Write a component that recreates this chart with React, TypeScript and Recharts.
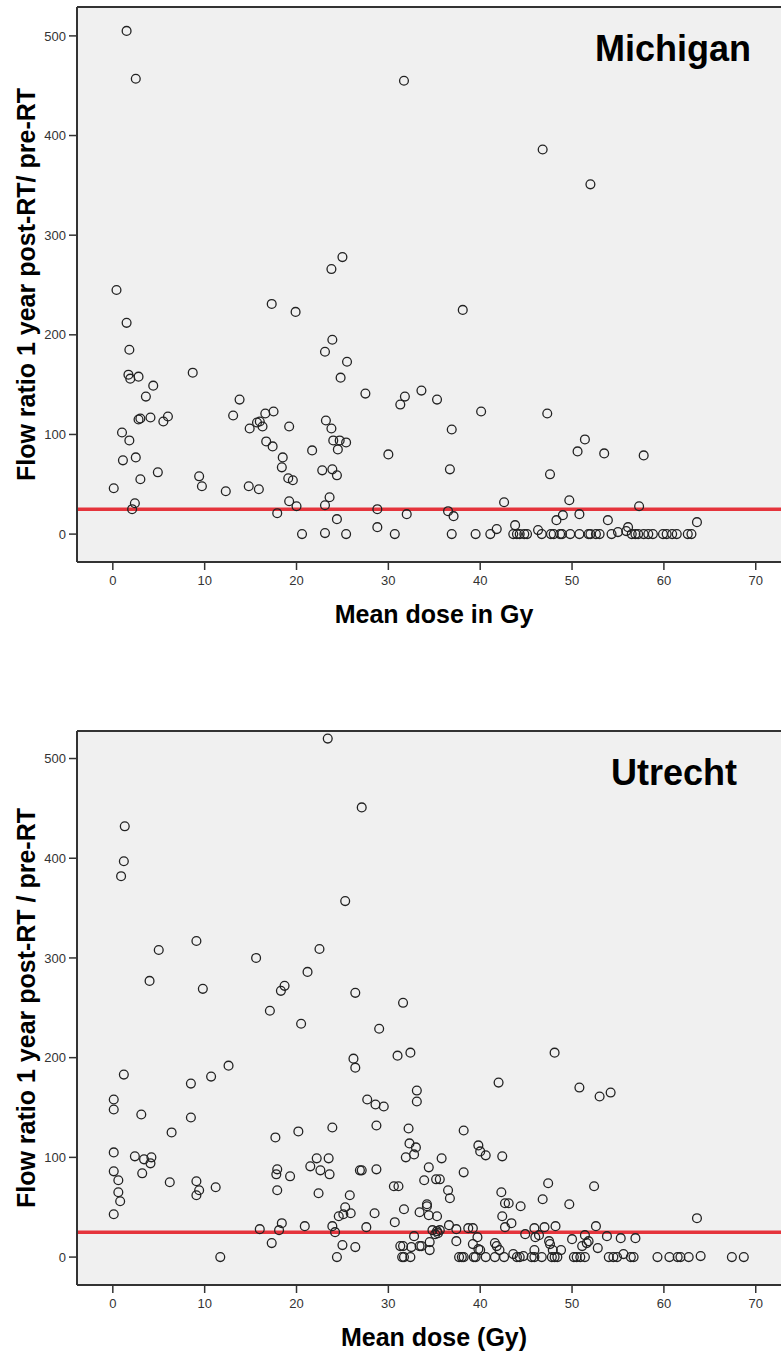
import React from "react";
import {
  ScatterChart,
  Scatter,
  XAxis,
  YAxis,
  CartesianGrid,
  ReferenceLine,
} from "recharts";

// [mean dose (Gy), flow ratio 1 year post-RT / pre-RT]
const michiganPoints: [number, number][] = [
  [1.5, 505], [2.5, 457], [31.7, 455], [46.8, 386], [52.0, 351], [25.0, 278],
  [23.8, 266], [0.4, 245], [17.3, 231], [38.1, 225], [19.9, 223], [1.5, 212],
  [23.9, 195], [1.8, 185], [23.1, 183], [25.5, 173], [8.7, 162], [1.7, 160],
  [1.9, 156], [2.8, 158], [24.8, 157], [4.4, 149], [33.6, 144], [27.5, 141],
  [3.6, 138], [31.8, 138], [13.8, 135], [35.3, 135], [31.3, 130], [40.1, 123],
  [17.5, 123], [16.6, 121], [47.3, 121], [13.1, 119], [6.0, 118], [4.1, 117],
  [3.0, 116], [2.8, 115], [23.2, 114], [16.0, 113], [5.5, 113], [15.7, 112],
  [16.3, 108], [19.2, 108], [14.9, 106], [23.8, 106], [36.9, 105], [1.0, 102],
  [51.4, 95], [1.8, 94], [24.0, 94], [24.7, 94], [16.7, 93], [25.4, 92],
  [17.4, 88], [24.5, 85], [21.7, 84], [50.6, 83], [53.5, 81], [30.0, 80],
  [57.8, 79], [2.5, 77], [18.5, 77], [1.1, 74], [18.4, 67], [23.9, 65],
  [36.7, 65], [22.8, 64], [4.9, 62], [47.6, 60], [24.4, 59], [9.4, 58],
  [19.1, 56], [3.0, 55], [19.6, 54], [9.7, 48], [14.8, 48], [0.1, 46],
  [15.9, 45], [12.3, 43], [23.6, 37], [49.7, 34], [19.2, 33], [42.6, 32],
  [2.4, 31], [23.1, 29], [20.0, 28], [57.3, 28], [2.1, 25], [28.8, 25],
  [36.5, 23], [17.9, 21], [32.0, 20], [50.8, 20], [49.0, 19], [37.1, 18],
  [24.4, 15], [48.3, 14], [53.9, 14], [63.6, 12], [43.8, 9], [28.8, 7],
  [56.1, 7], [41.8, 5], [46.3, 4], [55.9, 3], [55.0, 2], [23.1, 1],
  [20.6, 0], [25.4, 0], [30.7, 0], [36.9, 0], [39.5, 0], [41.1, 0],
  [43.6, 0], [44.0, 0], [44.3, 0], [44.8, 0], [45.1, 0], [46.7, 0],
  [47.7, 0], [48.0, 0], [48.7, 0], [48.9, 0], [49.8, 0], [50.8, 0],
  [51.8, 0], [52.0, 0], [52.6, 0], [53.0, 0], [54.3, 0], [56.5, 0],
  [56.9, 0], [57.2, 0], [57.8, 0], [58.3, 0], [58.8, 0], [59.9, 0],
  [60.3, 0], [60.9, 0], [61.4, 0], [62.6, 0], [63.0, 0],
];

const utrechtPoints: [number, number][] = [
  [23.4, 520], [27.1, 451], [1.3, 432], [1.2, 397], [0.9, 382], [25.3, 357],
  [9.1, 317], [5.0, 308], [22.5, 309], [15.6, 300], [21.2, 286], [4.0, 277],
  [18.7, 272], [18.3, 267], [9.8, 269], [26.4, 265], [31.6, 255], [17.1, 247],
  [20.5, 234], [29.0, 229], [32.4, 205], [48.1, 205], [31.0, 202], [26.2, 199],
  [12.6, 192], [26.4, 190], [1.2, 183], [10.7, 181], [42.0, 175], [8.5, 174],
  [50.8, 170], [33.1, 167], [54.2, 165], [53.0, 161], [0.1, 158], [27.7, 158],
  [33.1, 156], [28.6, 153], [29.5, 151], [0.1, 148], [3.1, 143], [8.5, 140],
  [28.7, 132], [23.9, 130], [32.2, 129], [38.2, 127], [20.2, 126], [6.4, 125],
  [17.7, 120], [32.3, 114], [39.8, 112], [33.0, 110], [40.0, 106], [0.1, 105],
  [32.8, 103], [40.6, 102], [2.4, 101], [42.4, 101], [4.2, 100], [31.9, 100],
  [22.2, 99], [23.5, 99], [35.8, 99], [3.4, 98], [4.1, 94], [21.5, 91],
  [34.4, 90], [28.7, 88], [17.9, 88], [22.6, 87], [26.9, 87], [27.1, 87],
  [0.1, 86], [38.2, 85], [3.2, 84], [17.8, 83], [23.6, 83], [19.3, 81],
  [35.2, 78], [35.6, 78], [0.6, 77], [33.9, 77], [9.1, 76], [6.2, 75],
  [47.4, 74], [11.2, 70], [30.6, 71], [31.1, 71], [52.4, 71], [9.4, 67],
  [17.9, 67], [36.5, 67], [0.6, 65], [42.3, 65], [22.4, 64], [25.8, 62],
  [9.1, 62], [36.7, 59], [46.8, 58], [0.8, 56], [42.7, 54], [43.1, 54],
  [34.2, 53], [49.7, 53], [34.2, 51], [44.4, 51], [25.3, 50], [31.7, 48],
  [33.4, 45], [28.5, 44], [25.9, 44], [0.1, 43], [25.1, 43], [34.4, 42],
  [24.6, 41], [35.3, 41], [42.4, 41], [63.6, 39], [30.7, 35], [18.4, 34],
  [43.4, 34], [36.6, 32], [20.9, 31], [23.9, 31], [48.2, 31], [52.6, 31],
  [27.6, 30], [42.7, 30], [47.0, 30], [38.7, 29], [39.2, 29], [45.9, 29],
  [16.0, 28], [37.4, 28], [18.1, 27], [34.8, 27], [35.6, 27], [35.3, 26],
  [24.2, 25], [35.4, 24], [35.1, 23], [44.9, 23], [46.4, 22], [51.4, 22],
  [32.8, 21], [53.8, 21], [39.7, 20], [46.0, 20], [55.3, 19], [56.9, 19],
  [50.0, 18], [37.4, 16], [47.5, 16], [51.8, 16], [34.5, 15], [41.6, 14],
  [51.6, 14], [17.3, 14], [39.2, 13], [47.6, 13], [25.0, 12], [31.3, 11],
  [31.6, 11], [33.4, 11], [33.6, 11], [41.8, 11], [51.1, 11], [26.4, 10],
  [32.5, 10], [52.8, 9], [39.8, 8], [34.5, 7], [40.0, 7], [42.1, 7],
  [45.9, 7], [47.9, 7], [48.8, 7], [43.6, 3], [55.6, 3], [44.7, 1], [64.0, 1],
  [11.7, 0], [24.4, 0], [31.5, 0], [31.7, 0], [32.4, 0], [37.7, 0],
  [38.0, 0], [38.2, 0], [39.3, 0], [39.5, 0], [40.6, 0], [41.6, 0],
  [42.6, 0], [44.0, 0], [44.3, 0], [45.6, 0], [45.9, 0], [46.7, 0],
  [47.8, 0], [48.1, 0], [48.4, 0], [50.2, 0], [50.5, 0], [50.9, 0],
  [51.4, 0], [54.0, 0], [54.5, 0], [54.9, 0], [56.4, 0], [56.7, 0],
  [59.3, 0], [60.6, 0], [61.5, 0], [61.8, 0], [62.7, 0], [67.4, 0], [68.7, 0],
];

const xTicks = [0, 10, 20, 30, 40, 50, 60, 70];
const yTicks = [0, 100, 200, 300, 400, 500];
const cutoff = 25;

const FONT = "'Liberation Sans', Arial, sans-serif";
const AXIS = "#333";

const openCircle = (props: any) => (
  <circle cx={props.cx} cy={props.cy} r={4.4} fill="none" stroke="#222" strokeWidth={1.3} />
);

type PanelProps = {
  points: [number, number][];
  title: string;
  xLabel: string;
  yLabel: string;
  top: number;
  height: number;
  marginTop: number;
  axisHeight: number;
  yDomain: [number, number];
  xLabelOffset: number;
  titleRight: number;
  titleBaseline: number;
};

function Panel(p: PanelProps) {
  const data = p.points.map(([dose, ratio]) => ({ dose, ratio }));
  return (
    <div style={{ position: "absolute", left: 0, top: p.top, width: 781, height: p.height }}>
      <ScatterChart
        width={781}
        height={p.height}
        margin={{ top: p.marginTop, right: 0, bottom: 0, left: 0 }}
        style={{ fontFamily: FONT }}
      >
        <CartesianGrid fill="#f0f0f0" horizontal={false} vertical={false} />
        <XAxis
          type="number"
          dataKey="dose"
          domain={[-3.9, 72.75]}
          allowDataOverflow
          ticks={xTicks}
          interval={0}
          height={p.axisHeight}
          tickSize={8}
          tickMargin={6}
          axisLine={{ stroke: AXIS, strokeWidth: 2 }}
          tickLine={{ stroke: AXIS, strokeWidth: 1.5 }}
          tick={{ fontSize: 13, fill: "#333" }}
          label={{
            value: p.xLabel,
            position: "insideBottom",
            offset: p.xLabelOffset,
            dx: 5,
            fontSize: 25,
            fontWeight: 700,
            fill: "#000",
          }}
        />
        <YAxis
          type="number"
          dataKey="ratio"
          domain={p.yDomain}
          allowDataOverflow
          ticks={yTicks}
          interval={0}
          width={77}
          tickSize={8}
          tickMargin={3}
          axisLine={{ stroke: AXIS, strokeWidth: 2 }}
          tickLine={{ stroke: AXIS, strokeWidth: 1.5 }}
          tick={{ fontSize: 13, fill: "#333" }}
          label={{
            value: p.yLabel,
            angle: -90,
            position: "insideLeft",
            offset: 26,
            fontSize: 25,
            fontWeight: 700,
            fill: "#000",
            style: { textAnchor: "middle" },
          }}
        />
        <ReferenceLine y={p.yDomain[1]} stroke={AXIS} strokeWidth={2} />
        <ReferenceLine y={cutoff} stroke="#e5343c" strokeWidth={3.5} />
        <Scatter data={data} shape={openCircle} isAnimationActive={false} />
      </ScatterChart>
      <div
        style={{
          position: "absolute",
          right: 781 - p.titleRight,
          top: p.titleBaseline - p.top - 30.5,
          fontFamily: FONT,
          fontWeight: 700,
          fontSize: 36,
          lineHeight: "36px",
          color: "#000",
          whiteSpace: "nowrap",
        }}
      >
        {p.title}
      </div>
    </div>
  );
}

export default function App() {
  return (
    <div
      style={{
        position: "absolute",
        left: 0,
        top: 0,
        width: 781,
        height: 1355,
        overflow: "hidden",
        background: "#fff",
      }}
    >
      <Panel
        points={michiganPoints}
        title="Michigan"
        xLabel="Mean dose in Gy"
        yLabel="Flow ratio 1 year post-RT/ pre-RT"
        top={0}
        height={640}
        marginTop={7}
        axisHeight={78}
        yDomain={[-28, 529]}
        xLabelOffset={17}
        titleRight={751}
        titleBaseline={61}
      />
      <Panel
        points={utrechtPoints}
        title="Utrecht"
        xLabel="Mean dose (Gy)"
        yLabel="Flow ratio 1 year post-RT / pre-RT"
        top={700}
        height={655}
        marginTop={31}
        axisHeight={70}
        yDomain={[-28, 527.6]}
        xLabelOffset={9}
        titleRight={737}
        titleBaseline={785}
      />
    </div>
  );
}
